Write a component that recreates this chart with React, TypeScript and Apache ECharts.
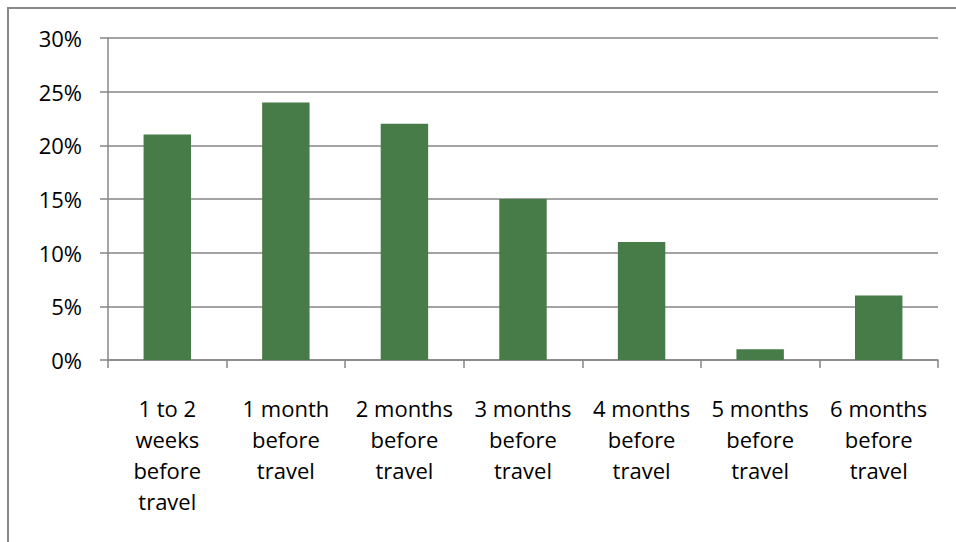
import React, { useEffect, useRef } from "react";
import * as echarts from "echarts";

const categories: string[] = [
  "1 to 2\nweeks\nbefore\ntravel",
  "1 month\nbefore\ntravel",
  "2 months\nbefore\ntravel",
  "3 months\nbefore\ntravel",
  "4 months\nbefore\ntravel",
  "5 months\nbefore\ntravel",
  "6 months\nbefore\ntravel",
];
const shares: number[] = [21, 24, 22, 15, 11, 1, 6];
const yMin = 0;
const yMax = 30;
const yStep = 5;

export default function App() {
  const ref = useRef<HTMLDivElement>(null);
  useEffect(() => {
    if (!ref.current) return;
    const chart = echarts.init(ref.current, null, { renderer: "svg" });
    const font = "'Open Sans', 'Noto Sans', sans-serif";
    chart.setOption({
      animation: false,
      backgroundColor: "#ffffff",
      textStyle: { fontFamily: font },
      graphic: [
        {
          type: "rect",
          shape: { x: 8, y: 8, width: 1000, height: 1000 },
          style: { fill: "none", stroke: "#898989", lineWidth: 2 },
          silent: true,
        },
      ],
      grid: { left: 108, top: 38, right: 18, bottom: 182, containLabel: false },
      xAxis: {
        type: "category",
        data: categories,
        boundaryGap: true,
        axisLine: { show: true, lineStyle: { color: "#868686", width: 1.5 } },
        axisTick: { show: true, alignWithLabel: false, length: 8, lineStyle: { color: "#868686", width: 1.5 } },
        axisLabel: {
          interval: 0,
          margin: 32,
          color: "#000000",
          fontSize: 22,
          lineHeight: 31,
          fontFamily: font,
          align: "center",
        },
      },
      yAxis: {
        type: "value",
        min: yMin,
        max: yMax,
        interval: yStep,
        axisLine: { show: true, lineStyle: { color: "#868686", width: 1.5 } },
        axisTick: { show: true, inside: false, length: 8, lineStyle: { color: "#868686", width: 1.5 } },
        splitLine: { show: true, lineStyle: { color: "#868686", width: 1.5 } },
        axisLabel: {
          margin: 26,
          color: "#000000",
          fontSize: 22,
          fontFamily: font,
          formatter: (v: number) => `${v}%`,
        },
      },
      series: [
        {
          type: "bar",
          data: shares,
          barWidth: "40%",
          itemStyle: { color: "#477B47" },
        },
      ],
    });
    return () => chart.dispose();
  }, []);
  return (
    <div
      ref={ref}
      style={{ position: "fixed", left: 0, top: 0, width: 956, height: 542 }}
    />
  );
}
